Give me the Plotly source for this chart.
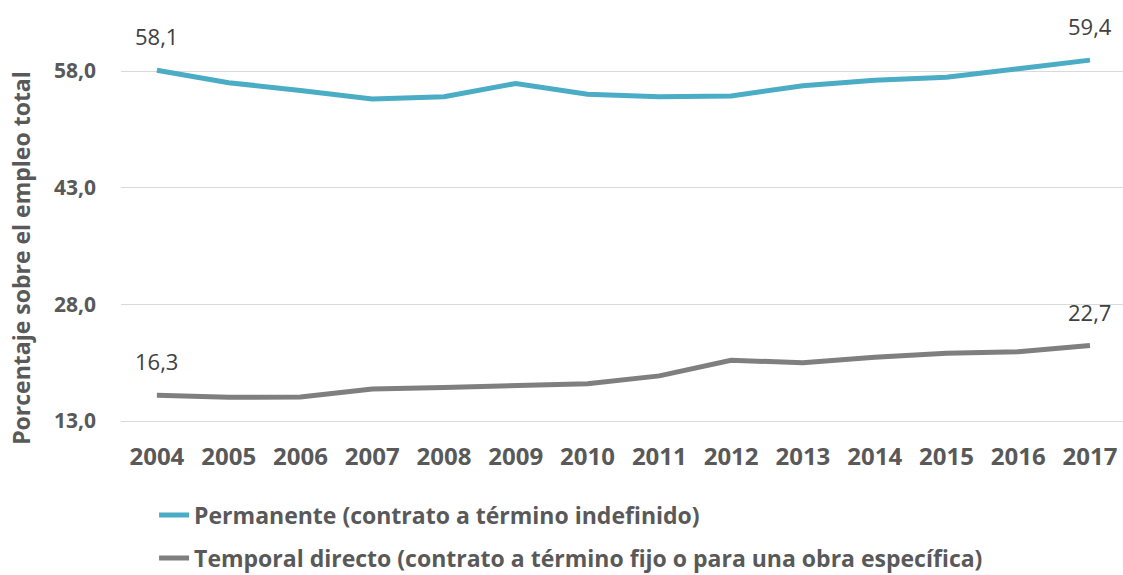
import plotly.graph_objects as go

years = [str(y) for y in range(2004, 2018)]
permanente = [58.1, 56.5, 55.5, 54.4, 54.7, 56.4, 55.0, 54.7, 54.8, 56.1, 56.8, 57.2, 58.3, 59.4]
temporal = [16.3, 16.05, 16.1, 17.1, 17.3, 17.6, 17.8, 18.8, 20.8, 20.5, 21.2, 21.7, 21.9, 22.7]
y_ticks = [13.0, 28.0, 43.0, 58.0]

name_perm = "Permanente (contrato a término indefinido)"
name_temp = "Temporal directo (contrato a término fijo o para una obra específica)"

FONT = "Open Sans"
AXIS_GREY = "#595959"
LABEL_GREY = "#404040"

fig = go.Figure()
fig.add_trace(go.Scatter(x=years, y=permanente, mode="lines", name=name_perm,
                         line=dict(color="#4BACC6", width=5), legend="legend"))
fig.add_trace(go.Scatter(x=years, y=temporal, mode="lines", name=name_temp,
                         line=dict(color="#7F7F7F", width=5), legend="legend2"))

# labels on first and last point of each series (x given as category index)
for series in (permanente, temporal):
    for i in (0, len(series) - 1):
        fig.add_annotation(x=i, y=series[i], text=f"{series[i]:.1f}".replace(".", ","),
                           showarrow=False, yshift=34,
                           font=dict(family=FONT, size=22, color=LABEL_GREY))

fig.add_annotation(text="Porcentaje sobre el empleo total", xref="paper", yref="paper",
                   x=-0.1, y=0.39, xanchor="center", yanchor="middle",
                   textangle=-90, showarrow=False,
                   font=dict(family=FONT, size=23, color=AXIS_GREY, weight="bold"))

legend_style = dict(xref="paper", yref="paper", xanchor="left", yanchor="middle",
                    bgcolor="rgba(0,0,0,0)", borderwidth=0,
                    font=dict(family=FONT, size=23, color=AXIS_GREY, weight="bold"))

fig.update_layout(
    width=1123, height=575,
    margin=dict(l=121, r=0, t=0, b=152, autoexpand=False),
    paper_bgcolor="white", plot_bgcolor="white",
    separators=",.",
    showlegend=True,
    legend=dict(x=0.033, y=-0.2175, **legend_style),
    legend2=dict(x=0.033, y=-0.319, **legend_style),
)
fig.update_xaxes(type="category", range=[-0.5, 13.46], showgrid=False, showline=False,
                 ticks="", ticklabelstandoff=17, automargin=False,
                 tickfont=dict(family=FONT, size=24, color=AXIS_GREY, weight="bold"))
fig.update_yaxes(range=[12.743, 67.128], tickvals=y_ticks, tickformat=".1f",
                 showgrid=True, gridcolor="#D9D9D9", gridwidth=1.3, automargin=False,
                 zeroline=False, showline=False, ticks="", ticklabelstandoff=24,
                 tickfont=dict(family=FONT, size=21, color=AXIS_GREY, weight="bold"))

# drop the page's default body margin so the figure sits at the window's corner
fig.write_html("out.html", config={"displayModeBar": False},
               post_script="document.body.style.margin='0px';")
